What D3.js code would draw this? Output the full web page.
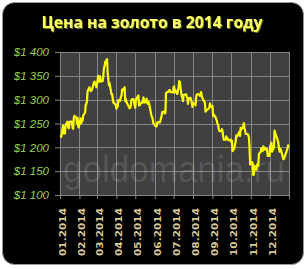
<!DOCTYPE html>
<html><head><meta charset="utf-8">
<script src="https://cdn.jsdelivr.net/npm/d3@7/dist/d3.min.js"></script>
<style>html,body{margin:0;padding:0;background:#fff;}svg{display:block;}</style>
</head><body><div id="chart"></div>
<script>
const title = "Цена на золото в 2014 году";
const watermark = "goldomania.ru";
const yTicks = [1100, 1150, 1200, 1250, 1300, 1350, 1400];
const monthLabels = ["01.2014","02.2014","03.2014","04.2014","05.2014","06.2014","07.2014","08.2014","09.2014","10.2014","11.2014","12.2014"];
const days = [
"01-02","01-03","01-06","01-07","01-08","01-09","01-10","01-13","01-14","01-15","01-16","01-17","01-20","01-21","01-22","01-23","01-24","01-27","01-28","01-29","01-30","01-31",
"02-03","02-04","02-05","02-06","02-07","02-10","02-11","02-12","02-13","02-14","02-17","02-18","02-19","02-20","02-21","02-24","02-25","02-26","02-27","02-28",
"03-03","03-04","03-05","03-06","03-07","03-10","03-11","03-12","03-13","03-14","03-17","03-18","03-19","03-20","03-21","03-24","03-25","03-26","03-27","03-28","03-31",
"04-01","04-02","04-03","04-04","04-07","04-08","04-09","04-10","04-11","04-14","04-15","04-16","04-17","04-22","04-23","04-24","04-25","04-28","04-29","04-30",
"05-01","05-02","05-06","05-07","05-08","05-09","05-12","05-13","05-14","05-15","05-16","05-19","05-20","05-21","05-22","05-23","05-27","05-28","05-29","05-30",
"06-02","06-03","06-04","06-05","06-06","06-09","06-10","06-11","06-12","06-13","06-16","06-17","06-18","06-19","06-20","06-23","06-24","06-25","06-26","06-27","06-30",
"07-01","07-02","07-03","07-04","07-07","07-08","07-09","07-10","07-11","07-14","07-15","07-16","07-17","07-18","07-21","07-22","07-23","07-24","07-25","07-28","07-29","07-30","07-31",
"08-01","08-04","08-05","08-06","08-07","08-08","08-11","08-12","08-13","08-14","08-15","08-18","08-19","08-20","08-21","08-22","08-26","08-27","08-28","08-29",
"09-01","09-02","09-03","09-04","09-05","09-08","09-09","09-10","09-11","09-12","09-15","09-16","09-17","09-18","09-19","09-22","09-23","09-24","09-25","09-26","09-29","09-30",
"10-01","10-02","10-03","10-06","10-07","10-08","10-09","10-10","10-13","10-14","10-15","10-16","10-17","10-20","10-21","10-22","10-23","10-24","10-27","10-28","10-29","10-30","10-31",
"11-03","11-04","11-05","11-06","11-07","11-10","11-11","11-12","11-13","11-14","11-17","11-18","11-19","11-20","11-21","11-24","11-25","11-26","11-27","11-28",
"12-01","12-02","12-03","12-04","12-05","12-08","12-09","12-10","12-11","12-12","12-15","12-16","12-17","12-18","12-19","12-22","12-23","12-24","12-29","12-30","12-31"];
const prices = [
1225,1222,1246,1229,1236,1229,1247,1254,1244,1240,1250,1254,1254,1241,1239,1262,1266,1263,1250,1262,1244,1242,
1261,1251,1258,1256,1267,1273,1289,1291,1297,1318,1326,1320,1318,1320,1321,1336,1338,1332,1331,1326,
1350,1338,1339,1349,1338,1339,1348,1366,1370,1379,1385,1355,1343,1330,1335,1311,1312,1303,1294,1294,1288,
1281,1289,1285,1299,1298,1306,1308,1321,1319,1326,1297,1301,1295,1282,1283,1289,1300,1301,1296,1288,
1283,1300,1309,1288,1288,1291,1295,1294,1305,1295,1294,1302,1293,1291,1296,1292,1265,1263,1257,1250,
1245,1244,1244,1252,1253,1252,1255,1261,1267,1274,1275,1271,1272,1314,1315,1317,1320,1320,1316,1316,1315,
1326,1328,1315,1320,1312,1320,1325,1339,1337,1307,1305,1297,1310,1310,1311,1307,1304,1291,1303,1304,1299,1295,1285,
1293,1290,1288,1305,1311,1311,1311,1308,1311,1316,1306,1298,1296,1293,1275,1277,1281,1284,1292,1285,
1287,1266,1269,1265,1266,1256,1249,1247,1239,1234,1234,1238,1235,1223,1216,1216,1223,1218,1219,1215,1215,1216,
1211,1214,1192,1198,1206,1213,1225,1222,1230,1233,1224,1241,1237,1244,1251,1240,1236,1228,1228,1226,1221,1203,1164,
1169,1168,1142,1143,1161,1153,1164,1163,1161,1186,1191,1198,1196,1192,1202,1195,1198,1197,1196,1182,
1182,1202,1206,1210,1191,1200,1235,1231,1225,1223,1210,1198,1191,1197,1195,1180,1175,1176,1195,1200,1206];

const W = 307, H = 269;
const plot = {left: 60, right: 289, top: 52, bottom: 195};
const parse = d3.timeParse("%Y-%m-%d");
const data = days.map((d, i) => ({date: parse("2014-" + d), value: prices[i]}));

const svg = d3.select("#chart").append("svg").attr("width", W).attr("height", H);
const defs = svg.append("defs");
const f = defs.append("filter").attr("id","ts").attr("x","-10%").attr("y","-30%").attr("width","120%").attr("height","160%");
f.append("feDropShadow").attr("dx",1).attr("dy",1).attr("stdDeviation",0.6).attr("flood-color","#6b7a1a").attr("flood-opacity",1);

// frame
svg.append("rect").attr("x", 2.5).attr("y", 2.5).attr("width", 301).attr("height", 262)
  .attr("rx", 12).attr("fill", "#000").attr("stroke", "#9a9a9a").attr("stroke-width", 1);

// title
svg.append("text").attr("x", 152).attr("y", 28).attr("text-anchor", "middle")
  .attr("font-family", "'Open Sans', 'Liberation Sans', sans-serif").attr("font-weight", "bold")
  .attr("font-size", 16).attr("fill", "#ffff66").attr("filter","url(#ts)")
  .attr("textLength", 221).attr("lengthAdjust", "spacingAndGlyphs").text(title);

const x = d3.scaleTime().domain([parse("2014-01-01"), parse("2015-01-01")]).range([plot.left, plot.right]);
const y = d3.scaleLinear().domain([1100, 1400]).range([plot.bottom, plot.top]);

// plot background
svg.append("rect").attr("x", plot.left).attr("y", plot.top)
  .attr("width", plot.right - plot.left).attr("height", plot.bottom - plot.top).attr("fill", "#404040");

// gridlines
const months = d3.timeMonth.range(parse("2014-01-01"), parse("2015-01-02"));
svg.append("g").selectAll("line").data(months).join("line")
  .attr("x1", d => Math.round(x(d)) + 0.5).attr("x2", d => Math.round(x(d)) + 0.5)
  .attr("y1", plot.top).attr("y2", plot.bottom).attr("stroke", "#858585").attr("stroke-width", 1);
svg.append("g").selectAll("line").data(yTicks).join("line")
  .attr("x1", plot.left).attr("x2", plot.right)
  .attr("y1", d => Math.round(y(d)) + 0.5).attr("y2", d => Math.round(y(d)) + 0.5)
  .attr("stroke", "#858585").attr("stroke-width", 1);

// watermark
svg.append("text").attr("x", 63).attr("y", 182)
  .attr("font-family", "'Liberation Sans', Arial, sans-serif").attr("font-size", 36)
  .attr("fill", "#ffffff").attr("fill-opacity", 0.13)
  .attr("textLength", 222).attr("lengthAdjust", "spacingAndGlyphs").text(watermark);

// y axis
const yAxis = svg.append("g").attr("transform", `translate(${plot.left},0)`)
  .call(d3.axisLeft(y).tickValues(yTicks).tickSize(5).tickPadding(6)
    .tickFormat(d => "$" + d3.format(",")(d).replace(",", " ")));
yAxis.select(".domain").attr("stroke", "#858585");
yAxis.selectAll(".tick line").attr("stroke", "#858585");
yAxis.selectAll(".tick text").attr("fill", "#92d050").attr("font-style", "italic")
  .attr("font-family", "'Liberation Sans', Arial, sans-serif").attr("font-size", 11.5);

// x axis
const xAxis = svg.append("g").attr("transform", `translate(0,${plot.bottom})`)
  .call(d3.axisBottom(x).tickValues(months).tickSize(4)
    .tickFormat((d, i) => i < monthLabels.length ? monthLabels[i] : ""));
xAxis.select(".domain").attr("stroke", "#858585");
xAxis.selectAll(".tick line").attr("stroke", "#858585");
xAxis.selectAll(".tick text").attr("fill", "#d8c897")
  .attr("font-family", "'DejaVu Sans', sans-serif").attr("font-weight", "bold").attr("font-size", 9.5)
  .attr("text-anchor", "end").attr("dy", null).attr("y", 0)
  .attr("transform", "translate(2,13) rotate(-90)").attr("dominant-baseline", "central")
  .attr("textLength", 48).attr("lengthAdjust", "spacingAndGlyphs");

// line
svg.append("path").datum(data)
  .attr("fill", "none").attr("stroke", "#ffff00").attr("stroke-width", 2.2)
  .attr("stroke-linejoin", "round")
  .attr("d", d3.line().x(d => x(d.date)).y(d => y(d.value)));
</script></body></html>
